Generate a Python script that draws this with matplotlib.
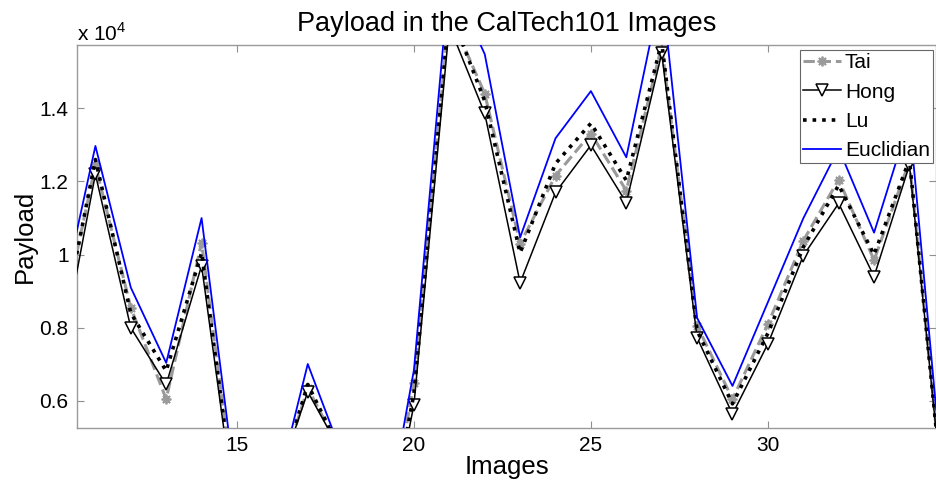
import matplotlib
matplotlib.use("Agg")
import matplotlib.pyplot as plt
from matplotlib.ticker import FixedLocator, FuncFormatter

plt.rcParams['font.family'] = ['Liberation Sans', 'DejaVu Sans']
plt.rcParams['mathtext.fontset'] = 'custom'
plt.rcParams['mathtext.rm'] = 'Liberation Sans'

images = list(range(10, 36))
tai = [7900, 12450, 8550, 6050, 10330, 2900, 3300, 6350, 4500, 1000, 6500,
       16600, 14400, 10300, 12160, 13310, 11750, 15700, 8060, 6050, 8100,
       10380, 12050, 9850, 12550, 2900]
hong = [7100, 12200, 8000, 6450, 9700, 2600, 3400, 6250, 4500, 1000, 5900,
        16250, 13860, 9230, 11700, 12990, 11420, 15500, 7730, 5640, 7560,
        9970, 11400, 9400, 12450, 2800]
lu = [7700, 12600, 8400, 6820, 10050, 2800, 3300, 6450, 4500, 1000, 6200,
      16700, 14200, 10050, 12490, 13590, 12030, 15800, 7920, 5920, 7850,
      10200, 11900, 10000, 12600, 2850]
euclid = [8540, 12970, 9100, 7040, 11000, 3350, 3100, 7010, 4450, 1500, 6850,
          17600, 15480, 10470, 13180, 14470, 12660, 17300, 8270, 6410, 8700,
          10990, 12900, 10600, 13700, 3200]
series_names = ["Tai", "Hong", "Lu", "Euclidian"]
x_ticks = [15, 20, 25, 30, 35]
y_ticks = [6000, 8000, 10000, 12000, 14000]

fig = plt.figure(figsize=(9.36, 4.86), dpi=100)
ax = fig.add_axes([77/936, 1-428/486, 1-77/936, (428-45)/486])

ax.plot(images, tai, color='#9a9a9a', linestyle='--', lw=2.2,
        marker=(8, 2, 0), ms=7, mew=1.3, label=series_names[0], zorder=2)
ax.plot(images, hong, color='black', linestyle='-', lw=1.1,
        marker='v', ms=8, mfc='white', mec='black', mew=1.1,
        label=series_names[1], zorder=3)
ax.plot(images, lu, color='black', linestyle=':', lw=2.6,
        label=series_names[2], zorder=4)
ax.plot(images, euclid, color='#0000ff', linestyle='-', lw=1.3,
        label=series_names[3], zorder=5)

ax.set_xlim(10.48, 34.75)
ax.set_ylim(5260, 15730)
ax.xaxis.set_major_locator(FixedLocator(x_ticks))
ax.yaxis.set_major_locator(FixedLocator(y_ticks))
ax.yaxis.set_major_formatter(FuncFormatter(lambda v, p: ('%g' % (v / 1e4))))
ax.tick_params(direction='in', length=5, width=0.8, color='#909090',
               labelsize=15, top=True, right=True, pad=6)
for s in ax.spines.values():
    s.set_color('#9a9a9a')
    s.set_linewidth(1.0)

ax.set_title("Payload in the CalTech101 Images", fontsize=19.5, pad=10)
ax.set_xlabel("Images", fontsize=18.5, labelpad=0)
ax.set_ylabel("Payload", fontsize=18.5, labelpad=2)
fig.text(77/936, 1-33/486, r"x 10$^{4}$", fontsize=15, ha='left', va='center')

leg = ax.legend(loc='upper right', bbox_to_anchor=(933/936, 1-50/486),
                bbox_transform=fig.transFigure, fontsize=15, frameon=True,
                fancybox=False, framealpha=1.0, borderpad=0.15,
                handlelength=1.8, handletextpad=0.2, labelspacing=0.5,
                borderaxespad=0)
leg.get_frame().set_edgecolor('#666666')
leg.get_frame().set_linewidth(0.8)
leg.set_zorder(10)

fig.savefig("out.png", dpi=100)
